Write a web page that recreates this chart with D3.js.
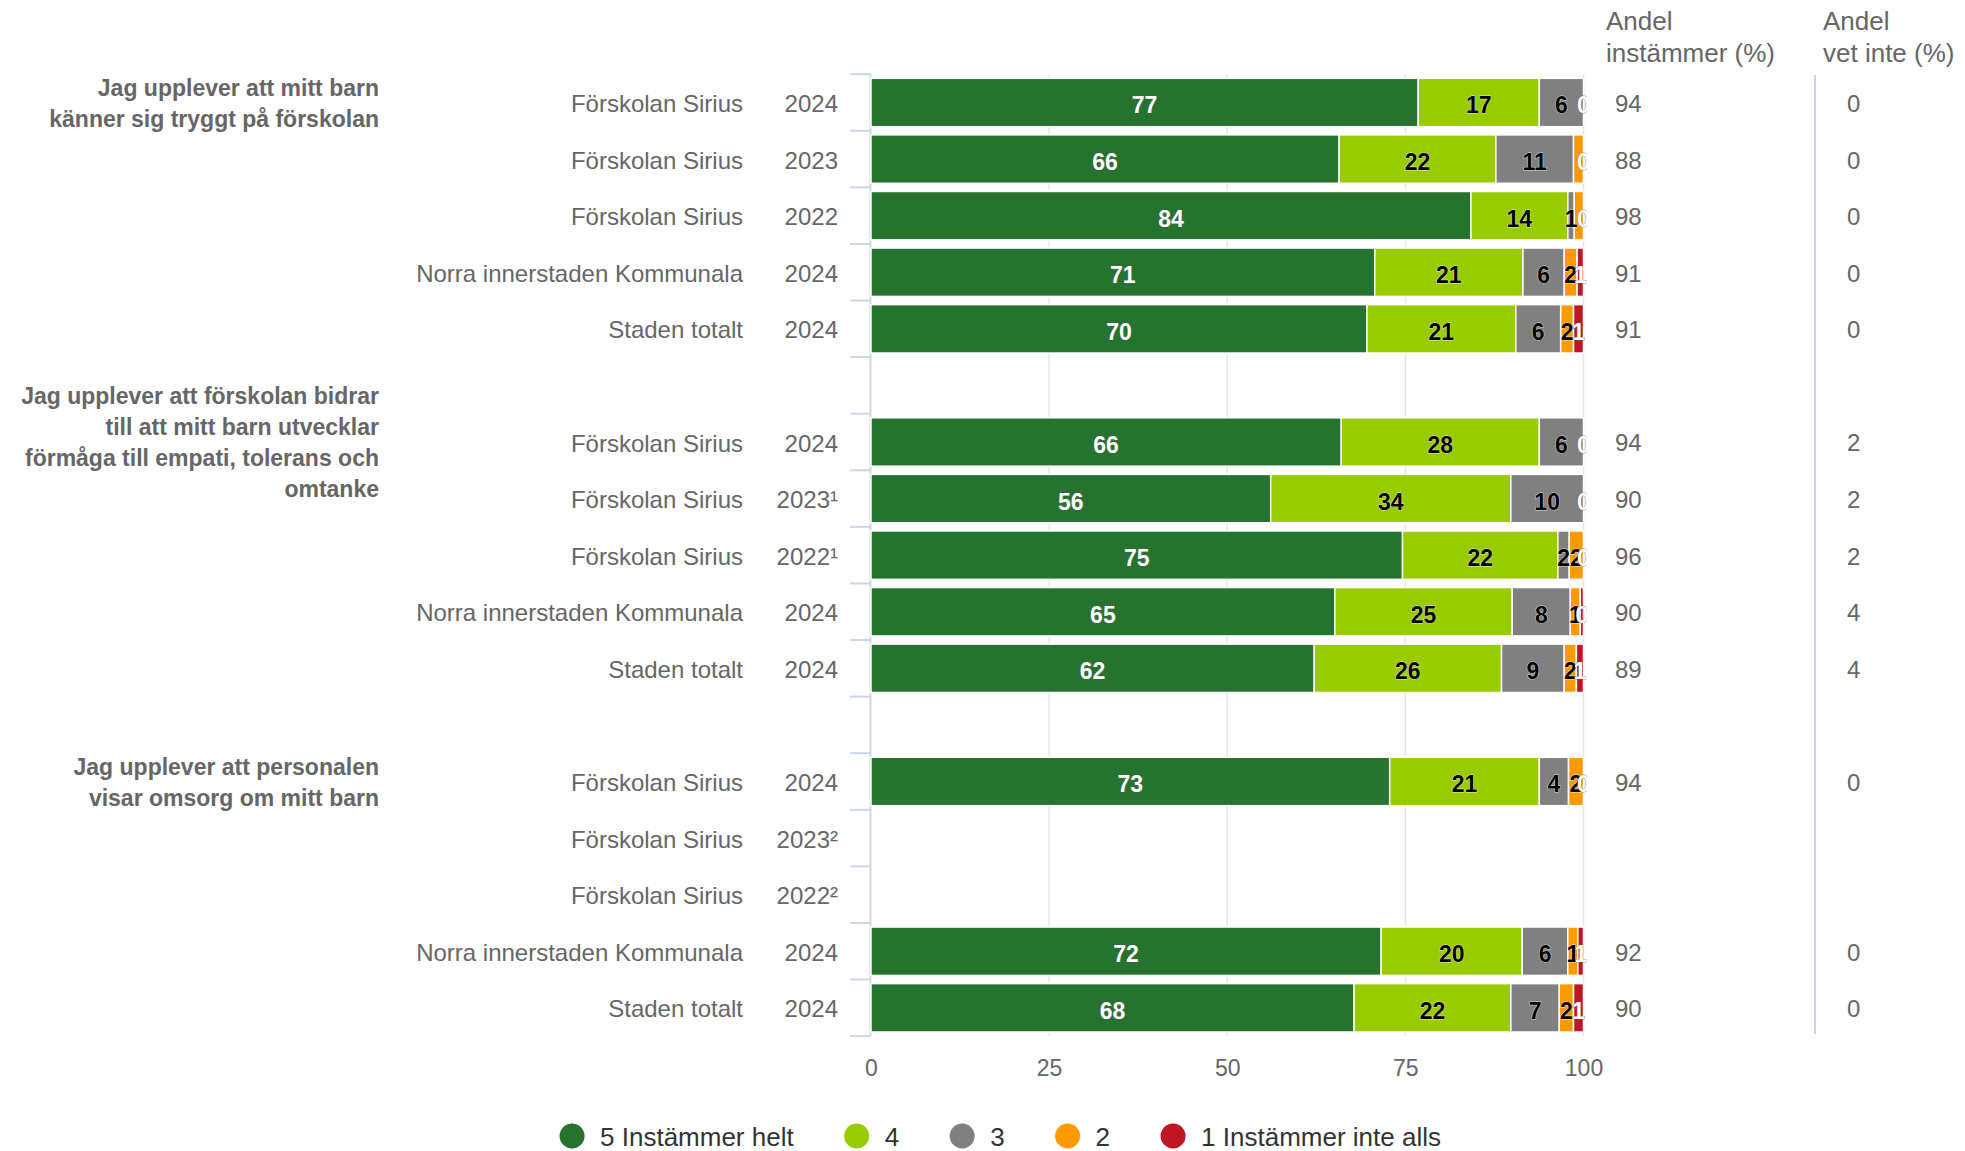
<!DOCTYPE html>
<html>
<head>
<meta charset="utf-8">
<script src="https://cdn.jsdelivr.net/npm/d3@7"></script>
<style>
  body { margin: 0; background: #fff; }
  svg { display: block; font-family: "Liberation Sans", Arial, sans-serif; }
</style>
</head>
<body>
<div id="chart"></div>
<script>
// ---- data ----
var categories = ["Förskolan Sirius", "Förskolan Sirius", "Förskolan Sirius", "Norra innerstaden Kommunala", "Staden totalt", "",
  "Förskolan Sirius", "Förskolan Sirius", "Förskolan Sirius", "Norra innerstaden Kommunala", "Staden totalt", "",
  "Förskolan Sirius", "Förskolan Sirius", "Förskolan Sirius", "Norra innerstaden Kommunala", "Staden totalt"];
var years = ["2024", "2023", "2022", "2024", "2024", "",
  "2024", "2023¹", "2022¹", "2024", "2024", "",
  "2024", "2023²", "2022²", "2024", "2024"];

var s5 = [76.8, 65.7, 84.2, 70.7, 69.6, null, 66.0, 56.1, 74.6, 65.1, 62.2, null, 72.8, null, null, 71.6, 67.8];
var s4 = [17.0, 22.0, 13.6, 20.8, 20.9, null, 27.8, 33.7, 21.8, 24.9, 26.3, null, 21.0, null, null, 19.8, 22.0];
var s3 = [6.2, 10.9, 0.9, 5.8, 6.3, null, 6.2, 10.2, 1.6, 8.15, 8.8, null, 4.1, null, null, 6.4, 6.8];
var s2 = [0, 1.4, 1.3, 1.8, 1.8, null, 0, 0, 2.0, 1.4, 1.7, null, 2.1, null, null, 1.4, 2.0];
var s1 = [0, 0, 0, 0.9, 1.4, null, 0, 0, 0, 0.45, 1.0, null, 0, null, null, 0.8, 1.4];

var andelInstammer = [94, 88, 98, 91, 91, null, 94, 90, 96, 90, 89, null, 94, null, null, 92, 90];
var andelVetInte = [0, 0, 0, 0, 0, null, 2, 2, 2, 4, 4, null, 0, null, null, 0, 0];

var seriesNames = ["5 Instämmer helt", "4", "3", "2", "1 Instämmer inte alls"];
var seriesColors = ["#267330", "#99cc00", "#808080", "#ff9900", "#be1622"];
var labelColors = ["#ffffff", "#000000", "#000000", "#000000", "#ffffff"];
var xTicks = [0, 25, 50, 75, 100];

var groups = [
  { row: 0, lines: ["Jag upplever att mitt barn", "känner sig tryggt på förskolan"] },
  { row: 6, lines: ["Jag upplever att förskolan bidrar", "till att mitt barn utvecklar", "förmåga till empati, tolerans och", "omtanke"] },
  { row: 12, lines: ["Jag upplever att personalen", "visar omsorg om mitt barn"] }
];

// ---- layout ----
var W = 1965, H = 1151;
var plotLeft = 871, plotRight = 1583.5, plotTop = 74.2, plotBottom = 1036.1;

var svg = d3.select("#chart").append("svg")
  .attr("width", W)
  .attr("height", H);

var x = d3.scaleLinear().domain([0, 100]).range([plotLeft, plotRight]);
var y = d3.scaleBand().domain(d3.range(categories.length))
  .range([plotTop, plotBottom])
  .paddingInner(0.145)
  .paddingOuter(0.0725);

var keys = ["s5", "s4", "s3", "s2", "s1"];
var table = categories.map(function(c, i) {
  return { i: i, s5: s5[i], s4: s4[i], s3: s3[i], s2: s2[i], s1: s1[i] };
});
var rows = table.filter(function(d) { return d.s5 != null; });
var stacked = d3.stack().keys(keys).value(function(d, k) { return d[k] || 0; })(rows);

// grid lines
svg.append("g").selectAll("line")
  .data([25, 50, 75, 100])
  .enter().append("line")
  .attr("x1", function(d) { return x(d); })
  .attr("x2", function(d) { return x(d); })
  .attr("y1", plotTop)
  .attr("y2", plotBottom)
  .attr("stroke", "#e6e6e6")
  .attr("stroke-width", 1.5);

// category axis line + boundary ticks
svg.append("line")
  .attr("x1", plotLeft - 0.5).attr("x2", plotLeft - 0.5)
  .attr("y1", plotTop).attr("y2", plotBottom)
  .attr("stroke", "#d8d8d8").attr("stroke-width", 2);

var boundaries = d3.range(categories.length + 1).map(function(i) {
  return plotTop + i * y.step();
});
svg.append("g").selectAll("line")
  .data(boundaries)
  .enter().append("line")
  .attr("x1", plotLeft - 21).attr("x2", plotLeft)
  .attr("y1", function(d) { return d; })
  .attr("y2", function(d) { return d; })
  .attr("stroke", "#ccd6eb").attr("stroke-width", 2);

// category names and years via axes
var nameAxis = svg.append("g")
  .attr("transform", "translate(" + plotLeft + ",0)")
  .call(d3.axisLeft(y).tickSize(0).tickPadding(plotLeft - 743).tickFormat(function(i) { return categories[i]; }));
var yearAxis = svg.append("g")
  .attr("transform", "translate(" + plotLeft + ",0)")
  .call(d3.axisLeft(y).tickSize(0).tickPadding(plotLeft - 838).tickFormat(function(i) { return years[i]; }));
[nameAxis, yearAxis].forEach(function(ax) {
  ax.select(".domain").remove();
  ax.selectAll("text")
    .attr("font-size", 24)
    .attr("font-family", "Liberation Sans, Arial, sans-serif")
    .attr("fill", "#666666")
    .attr("dy", "0.4em");
});

// question labels
groups.forEach(function(g) {
  var cy = y(g.row) + y.bandwidth() / 2;
  var t = svg.append("text")
    .attr("text-anchor", "end")
    .attr("font-size", 23)
    .attr("font-weight", "bold")
    .attr("fill", "#666666");
  g.lines.forEach(function(line, k) {
    t.append("tspan")
      .attr("x", 379)
      .attr("y", cy + 9 + (k - (g.lines.length - 1) / 2) * 31)
      .text(line);
  });
});

// bars
var barLayer = svg.append("g");
stacked.forEach(function(layer, si) {
  barLayer.append("g").selectAll("rect")
    .data(layer.filter(function(d) { return d[1] - d[0] > 0; }))
    .enter().append("rect")
    .attr("x", function(d) { return x(d[0]); })
    .attr("width", function(d) { return x(d[1]) - x(d[0]); })
    .attr("y", function(d) { return y(d.data.i); })
    .attr("height", y.bandwidth())
    .attr("fill", seriesColors[si])
    .attr("stroke", "#ffffff")
    .attr("stroke-width", 1.5);
});

// data labels, hiding the ones that collide (checked from the right end)
svg.append("clipPath").attr("id", "plotClip")
  .append("rect").attr("x", plotLeft - 5).attr("y", 0).attr("width", plotRight - plotLeft + 8).attr("height", H);

var labels = [];
rows.forEach(function(r, ri) {
  var shown = [];
  for (var si = keys.length - 1; si >= 0; si--) {
    var d = stacked[si][ri];
    var cx = x((d[0] + d[1]) / 2);
    var hit = shown.some(function(s) { return Math.abs(s - cx) < 5.8; });
    if (!hit) {
      shown.push(cx);
      labels.push({ si: si, cx: cx, cy: y(r.i) + y.bandwidth() / 2, v: Math.round(d[1] - d[0]) });
    }
  }
});
labels.sort(function(a, b) { return a.si - b.si; });

svg.append("g").attr("clip-path", "url(#plotClip)")
  .selectAll("text")
  .data(labels)
  .enter().append("text")
  .attr("x", function(d) { return d.cx; })
  .attr("y", function(d) { return d.cy + 11; })
  .attr("text-anchor", "middle")
  .attr("font-size", 23)
  .attr("font-weight", "bold")
  .attr("fill", function(d) { return labelColors[d.si]; })
  .attr("stroke", function(d) { return labelColors[d.si] == "#ffffff" ? "#555555" : "#ffffff"; })
  .attr("stroke-width", 1)
  .attr("stroke-opacity", 0.7)
  .attr("paint-order", "stroke")
  .text(function(d) { return d.v; });

// value axis
var xAxis = svg.append("g")
  .attr("transform", "translate(0," + plotBottom + ")")
  .call(d3.axisBottom(x).tickValues(xTicks).tickSize(0).tickPadding(24));
xAxis.select(".domain").remove();
xAxis.selectAll("text")
  .attr("font-size", 23)
  .attr("font-family", "Liberation Sans, Arial, sans-serif")
  .attr("fill", "#666666");

// side columns
var cols = [
  { x: 1606, vx: 1615, title: ["Andel", "instämmer (%)"], values: andelInstammer },
  { x: 1823, vx: 1847, title: ["Andel", "vet inte (%)"], values: andelVetInte }
];
cols.forEach(function(c) {
  var t = svg.append("text").attr("font-size", 26).attr("fill", "#666666");
  c.title.forEach(function(line, k) {
    t.append("tspan").attr("x", c.x).attr("y", 30 + k * 32).text(line);
  });
  svg.append("g").selectAll("text")
    .data(c.values.map(function(v, i) { return { v: v, i: i }; }).filter(function(d) { return d.v != null; }))
    .enter().append("text")
    .attr("x", c.vx)
    .attr("y", function(d) { return y(d.i) + y.bandwidth() / 2 + 9.5; })
    .attr("font-size", 24)
    .attr("fill", "#666666")
    .text(function(d) { return d.v; });
});

svg.append("line")
  .attr("x1", 1815).attr("x2", 1815)
  .attr("y1", 75).attr("y2", 1034)
  .attr("stroke", "#ccd6eb").attr("stroke-width", 2);

// legend
var legend = svg.append("g");
var lx = 0;
seriesNames.forEach(function(name, i) {
  var item = legend.append("g").attr("transform", "translate(" + lx + ",0)");
  item.append("circle").attr("cx", 13).attr("cy", 1136).attr("r", 12.5).attr("fill", seriesColors[i]);
  var tx = item.append("text")
    .attr("x", 41).attr("y", 1146)
    .attr("font-size", 26)
    .attr("fill", "#333333")
    .text(name);
  lx += 41 + tx.node().getComputedTextLength() + 50;
});
var legendWidth = lx - 50;
legend.attr("transform", "translate(" + (1000 - legendWidth / 2) + ",0)");
</script>
</body>
</html>
